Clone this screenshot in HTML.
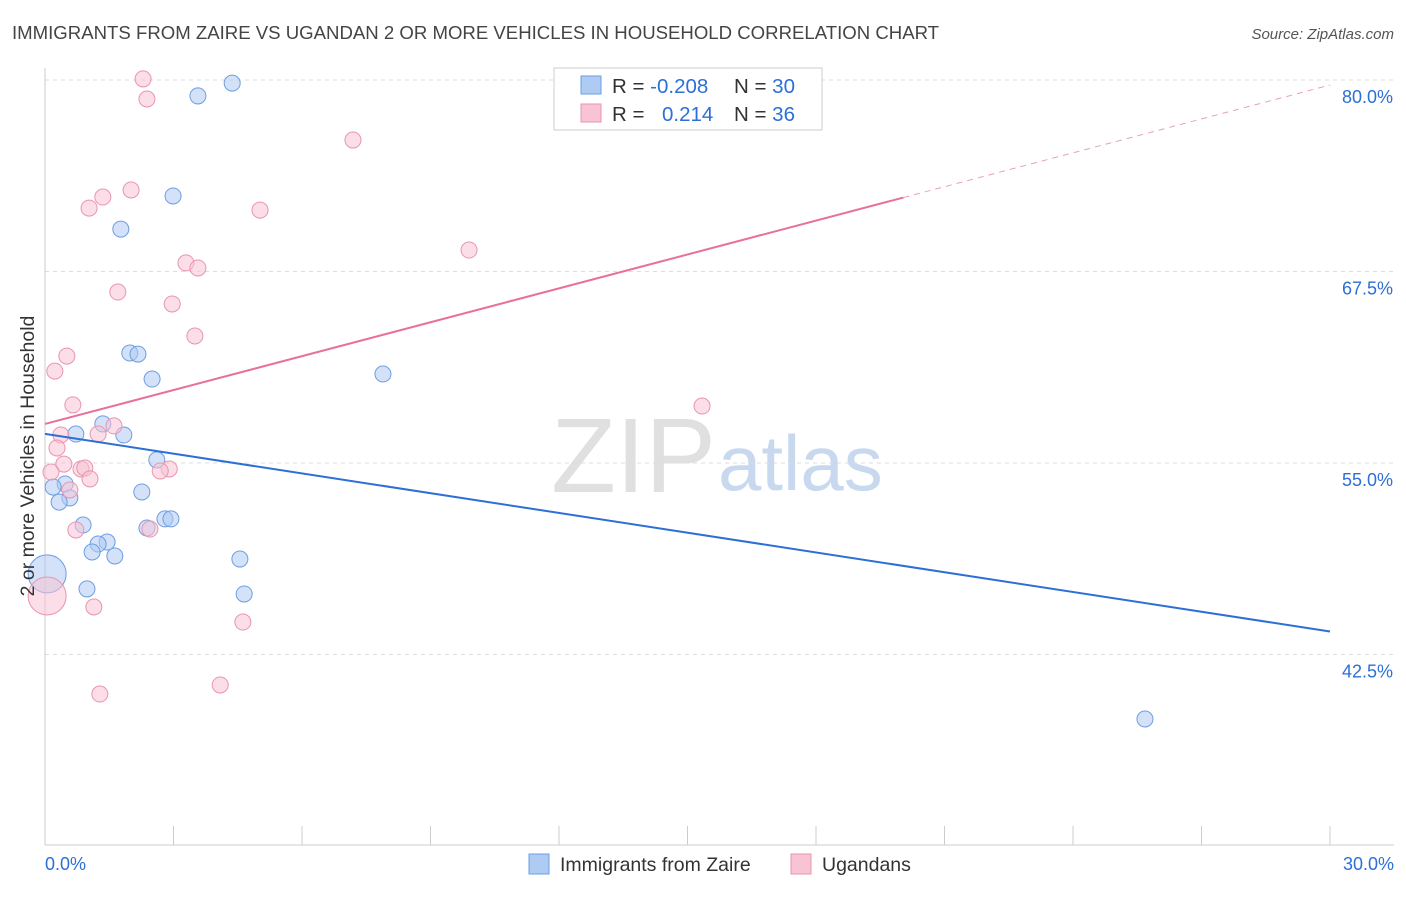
<!DOCTYPE html>
<html><head><meta charset="utf-8"><style>
body{margin:0;background:#fff;font-family:"Liberation Sans",sans-serif}
svg text{font-family:"Liberation Sans",sans-serif}
</style></head><body>
<svg id="chart" width="1406" height="892" xmlns="http://www.w3.org/2000/svg">
<text x="12" y="39" font-size="18.6" fill="#444">IMMIGRANTS FROM ZAIRE VS UGANDAN 2 OR MORE VEHICLES IN HOUSEHOLD CORRELATION CHART</text>
<text x="1394" y="39" font-size="15" fill="#555" text-anchor="end" font-style="italic">Source: ZipAtlas.com</text>
<text x="716" y="492" font-size="106" text-anchor="end" fill="#e0e0e0" font-family="Liberation Serif,serif">ZIP</text>
<text x="718" y="490" font-size="78" fill="#c8d8ee">atlas</text>
<g id="grid"></g><g id="marks"></g>
<text transform="translate(34,456) rotate(-90)" font-size="19.5" fill="#333" text-anchor="middle">2 or more Vehicles in Household</text>
<g>
<rect x="554" y="68" width="268" height="62" fill="#fff" stroke="#ccc"/>
<rect x="581" y="76" width="20" height="18" fill="#aecbf3" stroke="#6e9ee0"/>
<rect x="581" y="104" width="20" height="18" fill="#f8c3d3" stroke="#ea94b0"/>
<text x="612" y="93" font-size="20.5" fill="#333">R = <tspan fill="#2c6fd6">-0.208</tspan></text>
<text x="734" y="93" font-size="20.5" fill="#333">N = <tspan fill="#2c6fd6">30</tspan></text>
<text x="612" y="121" font-size="20.5" fill="#333">R = <tspan fill="#2c6fd6" x="662">0.214</tspan></text>
<text x="734" y="121" font-size="20.5" fill="#333">N = <tspan fill="#2c6fd6">36</tspan></text>
</g>
<g>
<rect x="529" y="854" width="20" height="20" fill="#aecbf3" stroke="#6e9ee0"/>
<text x="560" y="871" font-size="19.5" fill="#333">Immigrants from Zaire</text>
<rect x="791" y="854" width="20" height="20" fill="#f8c3d3" stroke="#ea94b0"/>
<text x="822" y="871" font-size="19.5" fill="#333">Ugandans</text>
</g>
</svg>
<script>
const yTicks=[80,67.5,55,42.5];
const xTickLabels=["0.0%","30.0%"];
const blueX=[4.37,3.57,2.99,1.77,1.98,2.17,2.50,7.89,1.35,0.72,1.84,2.61,0.47,0.19,2.26,0.58,0.33,0.89,2.80,2.94,2.38,1.45,1.24,1.10,1.63,4.55,0.98,4.65,25.68,0.05];
const blueY=[79.8,78.96,72.43,70.27,62.18,62.11,60.48,60.81,57.55,56.89,56.83,55.2,53.63,53.43,53.11,52.72,52.45,50.95,51.35,51.35,50.76,49.84,49.71,49.19,48.93,48.73,46.78,46.45,38.29,47.76];
const pinkX=[2.29,2.38,7.19,2.01,1.35,1.03,5.02,9.90,3.29,3.57,1.70,2.97,3.50,0.51,0.23,0.65,1.61,0.37,1.24,0.28,0.44,0.84,0.93,2.90,2.69,1.05,0.14,0.58,0.72,2.45,15.34,1.14,4.62,4.09,1.28,0.05];
const pinkY=[80.07,78.76,76.08,72.82,72.36,71.64,71.51,68.9,68.06,67.73,66.16,65.38,63.29,61.98,61.0,58.79,57.42,56.83,56.89,55.98,54.93,54.61,54.67,54.61,54.48,53.96,54.41,53.24,50.63,50.69,58.72,45.6,44.62,40.51,39.92,46.32];
const blueTrend=[56.9,44.0];
const pinkTrend=[57.55,79.67];
const pinkSolidEnd=20.04;
const NS="http://www.w3.org/2000/svg";
const X=v=>45+v/30*1285;
const Y=v=>80+(80-v)*191.5/12.5;
function mk(t,a,p){const e=document.createElementNS(NS,t);for(const k in a)e.setAttribute(k,a[k]);p.appendChild(e);return e;}
const g=document.getElementById('grid'),m=document.getElementById('marks');
yTicks.forEach(t=>{
 const l=mk('line',{x1:45,x2:1394,y1:Y(t),y2:Y(t),stroke:'#ddd','stroke-dasharray':'4,4'},g);
 
 
 const tx=mk('text',{x:1393,y:Y(t)+23,'font-size':18,fill:'#2c6fd6','text-anchor':'end'},g);
 tx.textContent=t.toFixed(1)+'%';
 
 
});
mk('line',{x1:45,x2:45,y1:68,y2:845,stroke:'#ccc'},g);
mk('line',{x1:45,x2:1394,y1:845,y2:845,stroke:'#ccc'},g);
for(let i=0;i<=10;i++){const t=mk('line',{x1:X(i*3),x2:X(i*3),y1:826,y2:845,stroke:'#ccc'},g);
 
 }
[[0,'start',45],[30,'end',1394]].forEach((d,i)=>{const t=mk('text',{x:d[2],y:870,'font-size':18,fill:'#2c6fd6','text-anchor':d[1]},g);t.textContent=xTickLabels[i];
 
 });
function pts(xs,ys,fill,stroke,name){xs.forEach((x,i)=>{const big=i===xs.length-1&&x<0.1;
 const c=mk('circle',{cx:X(x),cy:Y(ys[i]),r:big?19:8,fill:fill,'fill-opacity':0.55,stroke:stroke,'stroke-width':1},m);
 
 });}
pts(blueX,blueY,'#aecbf3','#6e9ee0','zaire-point');
pts(pinkX,pinkY,'#f8c3d3','#ea94b0','ugandan-point');
const pl=v=>pinkTrend[0]+(pinkTrend[1]-pinkTrend[0])*v/30;
const bt=mk('line',{x1:X(0),y1:Y(blueTrend[0]),x2:X(30),y2:Y(blueTrend[1]),stroke:'#2c6fd6','stroke-width':2},m);


const pt=mk('line',{x1:X(0),y1:Y(pl(0)),x2:X(pinkSolidEnd),y2:Y(pl(pinkSolidEnd)),stroke:'#e8709a','stroke-width':2},m);


const pd=mk('line',{x1:X(pinkSolidEnd),y1:Y(pl(pinkSolidEnd)),x2:X(30),y2:Y(pl(30)),stroke:'#e8a0b8','stroke-width':1,'stroke-dasharray':'6,5'},m);


</script>
</body></html>
